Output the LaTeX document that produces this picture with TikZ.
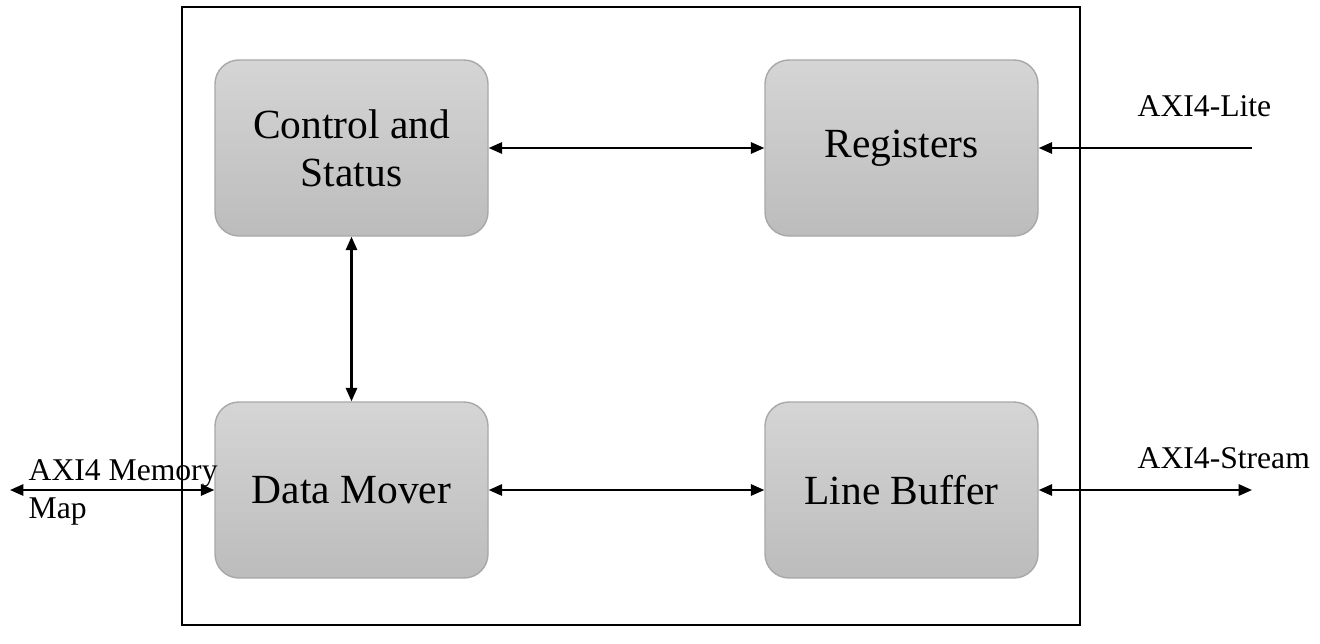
\documentclass[tikz,border=0pt]{standalone}
\usepackage{fontspec}
\setmainfont{Liberation Serif}
\usetikzlibrary{arrows.meta}

\definecolor{boxtop}{HTML}{D5D5D5}
\definecolor{boxbot}{HTML}{BCBCBC}
\definecolor{boxline}{HTML}{A8A8A8}

\tikzset{
  block/.style={draw=boxline, top color=boxtop, bottom color=boxbot, rounded corners=0.24cm,
    minimum width=2.73cm, minimum height=1.76cm, align=center, inner sep=0pt,
    font=\fontsize{11.8}{13.7}\selectfont},
  port/.style={font=\fontsize{9}{10.8}\selectfont, inner sep=0pt, align=left},
  link/.style={black, semithick, {Triangle[length=3.8pt,width=3.2pt]}-{Triangle[length=3.8pt,width=3.2pt]}},
  feed/.style={black, semithick, -{Triangle[length=3.8pt,width=3.2pt]}},
}

\begin{document}
\begin{tikzpicture}
\useasboundingbox (0,0) rectangle (13.2,6.43);

\coordinate (TL) at (1.82,6.36);
\coordinate (BR) at (10.80,0.18);
\draw[black,semithick] (TL) rectangle (BR);

\node[block] (ctrl) at (3.515,4.95) {Control and\\Status};
\node[block] (regs) at (9.015,4.95) {Registers};
\node[block] (mover) at (3.515,1.53) {Data Mover};
\node[block] (lbuf) at (9.015,1.53) {Line Buffer};

\coordinate (lite) at (12.52,4.95);
\coordinate (strm) at (12.52,1.53);
\coordinate (mm) at (0.10,1.53);

\draw[link] (ctrl) -- (regs);
\draw[link] (ctrl) -- (mover);
\draw[link] (mover) -- (lbuf);
\draw[feed] (lite) -- (regs.east);
\draw[link] (lbuf.east) -- (strm);
\draw[link] (mm) -- (mover.west);

\node[port, anchor=base west] (litelbl) at (11.37,5.27) {AXI4-Lite};
\node[port, anchor=base west] (strmlbl) at (11.37,1.75) {AXI4-Stream};
\node[port, anchor=base west] (mmlbl) at (0.28,1.25) {AXI4 Memory\\Map};

\end{tikzpicture}
\end{document}
